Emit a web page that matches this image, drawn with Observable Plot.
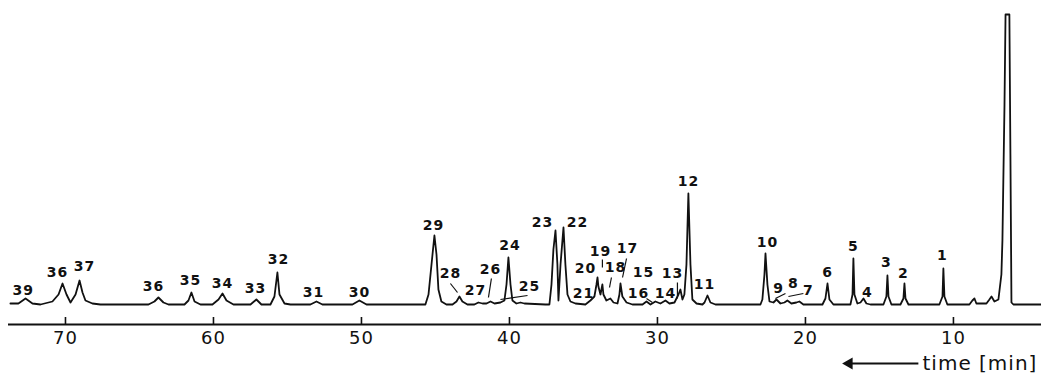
<!DOCTYPE html>
<html><head><meta charset="utf-8">
<script src="https://cdn.jsdelivr.net/npm/d3@7"></script>
<script src="https://cdn.jsdelivr.net/npm/@observablehq/plot@0.6"></script>
<style>html,body{margin:0;padding:0;background:#fff;overflow:hidden} svg{display:block}</style>
</head><body><div id="chart"></div>
<script>
// Chromatogram trace: retention time (min) and detector signal (arbitrary units)
const traceTime = [73.72,73.18,72.70,72.23,71.69,70.88,70.47,70.20,69.93,69.66,69.32,69.05,68.85,68.65,68.18,67.64,
  64.39,63.99,63.72,63.38,63.04,61.96,61.69,61.49,61.28,60.88,60.07,59.66,59.39,59.12,58.65,57.50,57.10,56.76,
  56.15,55.88,55.68,55.54,55.20,54.80,53.45,53.04,52.64,50.61,50.14,49.66,
  45.68,45.47,45.20,45.07,44.93,44.80,44.60,44.26,43.85,43.58,43.38,43.18,42.84,42.37,42.10,41.82,41.55,41.28,41.01,
  40.61,40.34,40.20,40.07,39.93,39.80,39.53,39.26,38.99,37.57,37.30,37.16,37.03,36.89,36.76,36.69,36.55,36.35,36.22,
  36.08,35.88,35.54,34.87,34.53,34.26,34.12,34.05,33.99,33.85,33.72,33.65,33.45,33.18,32.97,32.70,32.57,32.50,32.37,
  32.09,31.69,31.01,30.74,30.47,30.14,29.80,29.46,29.19,28.85,28.58,28.45,28.31,28.18,28.04,27.91,27.77,27.64,27.36,
  26.96,26.82,26.62,26.42,26.08,23.04,22.91,22.77,22.70,22.57,22.43,22.16,21.96,21.69,21.42,21.22,20.95,20.61,20.41,
  20.14,18.85,18.65,18.51,18.38,18.11,16.96,16.82,16.76,16.69,16.49,16.28,16.08,15.88,15.61,14.73,14.53,14.46,14.39,
  14.19,13.58,13.38,13.31,13.24,13.04,10.95,10.74,10.68,10.61,10.41,8.92,8.72,8.58,8.45,7.77,7.57,7.43,7.23,6.96,
  6.76,6.69,6.55,6.48,6.22,6.15,6.08,5.95,4.05];
const traceSignal = [1,1,6,1,0,3,10,21,10,2,10,24,12,4,1,0,
  0,3,7,2,0,0,4,12,3,0,0,5,11,4,0,0,5,0,
  0,8,32,10,1,0,0,3,0,0,4,0,
  0,10,50,69,50,15,3,0,0,3,8,3,0,0,2,1,1,3,1,
  2,4,20,47,20,4,1,2,1,0,0,20,55,74,40,4,40,77,40,
  10,3,1,0,4,8,20,27,18,10,20,10,4,6,2,1,10,21,8,
  2,0,0,3,0,3,1,4,1,2,10,15,5,10,40,111,40,5,1,
  0,2,9,2,0,0,5,30,51,20,3,2,5,1,2,4,1,2,3,
  0,0,6,21,5,0,0,10,46,10,1,2,6,1,0,0,8,29,8,
  0,0,6,21,6,0,0,8,36,8,0,0,4,6,1,1,5,8,3,5,
  30,64,200,290,290,150,2,0,0];

// Peak numbers and where their labels sit (time, signal)
const peakLabels  = ["39","36","37","36","35","34","33","32","31","30","29","28","27","26","24","25","23","22","21","20",
  "19","18","17","16","15","14","13","12","11","10","9","8","7","6","5","4","3","2","1"];
const labelTime   = [72.85,70.54,68.72,64.05,61.55,59.39,57.16,55.61,53.24,50.13,45.13,43.99,42.30,41.28,39.96,38.65,37.77,35.41,35.00,34.86,
  33.85,32.84,32.03,31.28,30.94,29.46,28.99,27.91,26.82,22.57,21.82,20.81,19.80,18.51,16.76,15.81,14.53,13.38,10.74];
const labelSignal = [14,32,38,18,24,21,16,45,12,12,79,31,14,35,59,18,82,82,11,36,
  53,37,56,11,32,11,31,123,20,62,16,21,14,32,58,12,42,31,49];

// Leader strokes from labels to small peaks (time/signal endpoints)
const leaderT1 = [43.99,41.22,38.78,33.11,32.09,30.74,28.65,22.03,20.14,33.72];
const leaderS1 = [21,26,9,27,46,6,22,6,11,45];
const leaderT2 = [43.51,41.42,40.61,33.24,32.36,30.34,28.65,21.35,21.15,33.72];
const leaderS2 = [12,7,5,17,27,2,6,11,8,37];

// Axis
const tickValues = [70,60,50,40,30,20,10];
const axisTitle = [{text: "time [min]", x: 12.09, arrowFrom: 12.37, arrowTo: 17.05}];

const trace = traceTime.map((t, i) => ({t, s: traceSignal[i]}));
const labels = peakLabels.map((p, i) => ({p, t: labelTime[i], s: labelSignal[i]}));
const leaders = leaderT1.map((t, i) => ({t1: t, s1: leaderS1[i], t2: leaderT2[i], s2: leaderS2[i]}));

const font = "DejaVu Sans, Verdana, sans-serif";
const axisY = -20;   // signal level of the time axis line
const titleY = -59;

const chart = Plot.plot({
  width: 1041,
  height: 375,
  marginLeft: 8,
  marginRight: 0,
  marginTop: 0,
  marginBottom: 0,
  style: {fontFamily: font, background: "#fff", color: "#000", letterSpacing: "1px"},
  x: {domain: [73.85, 4.05], range: [8, 1041], axis: null},
  y: {domain: [0, 290], range: [304, 14], axis: null},
  marks: [
    Plot.ruleY([axisY], {stroke: "#111", strokeWidth: 1.8}),
    Plot.ruleX(tickValues, {x: d => d, y1: axisY, y2: axisY + 7, stroke: "#111", strokeWidth: 1.6}),
    Plot.text(tickValues, {x: d => d, y: axisY, dy: 14, text: d => String(d), fontSize: 18, fill: "#111"}),
    Plot.line(trace, {x: "t", y: "s", stroke: "#111", strokeWidth: 1.8, strokeLinejoin: "round"}),
    Plot.link(leaders, {x1: "t1", y1: "s1", x2: "t2", y2: "s2", stroke: "#111", strokeWidth: 1.2}),
    Plot.text(labels, {x: "t", y: "s", text: "p", fontSize: 14, fontWeight: "bold", fill: "#111"}),
    Plot.link(axisTitle, {x1: "arrowFrom", x2: "arrowTo", y1: () => titleY, y2: () => titleY, stroke: "#111", strokeWidth: 2}),
    Plot.dot(axisTitle, {x: "arrowTo", y: () => titleY, symbol: "triangle", r: 4.5, rotate: -90, fill: "#111", stroke: "none"}),
    Plot.text(axisTitle, {x: "x", y: () => titleY, text: "text", textAnchor: "start", fontSize: 20, fill: "#111"})
  ]
});
document.getElementById("chart").appendChild(chart);
</script>
</body></html>
